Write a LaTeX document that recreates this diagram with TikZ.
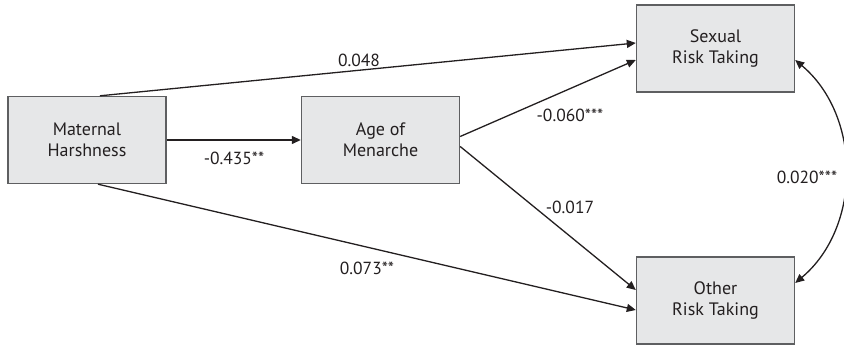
\documentclass[tikz,border=0pt]{standalone}
\usepackage{fontspec}
\setmainfont{PT Sans}
\usetikzlibrary{arrows.meta}
\definecolor{BoxGray}{HTML}{E6E7E8}
\definecolor{EdgeGray}{HTML}{5E5F61}
\definecolor{InkBlack}{HTML}{231F20}
\tikzset{
  varbox/.style={draw=EdgeGray, line width=1.4pt, fill=BoxGray, align=center, minimum width=158pt, minimum height=87pt, inner sep=0pt, font=\fontsize{18}{21}\selectfont, text=InkBlack},
  coef/.style={font=\fontsize{17.5}{21}\selectfont, text=InkBlack, inner sep=1pt},
  link/.style={-{Triangle[length=9pt,width=8pt]}, line width=1.3pt, draw=InkBlack},
  covlink/.style={{Triangle[length=9pt,width=8pt]}-{Triangle[length=9pt,width=8pt]}, line width=1.3pt, draw=InkBlack}
}

\begin{document}
\begin{tikzpicture}[x=1pt, y=1pt]
\useasboundingbox (0,0) rectangle (844,345);
\node[varbox] (harsh) at (87,205) {Maternal\\Harshness};
\node[varbox] (menarche) at (380.5,205) {Age of\\Menarche};
\node[varbox] (sexual) at (715.5,296.5) {Sexual\\Risk Taking};
\node[varbox] (other) at (715.5,44.5) {Other\\Risk Taking};
\draw[link] ([xshift=13pt]harsh.north) -- ([yshift=5.5pt]sexual.west);
\draw[link] (harsh.east) -- (menarche.west);
\draw[link] ([yshift=3.5pt]menarche.east) -- ([yshift=-11.5pt]sexual.west);
\draw[link] ([yshift=-6.5pt]menarche.east) -- ([yshift=10.5pt]other.west);
\draw[link] ([xshift=11pt]harsh.south) -- ([yshift=-9.5pt]other.west);
\draw[covlink] ([yshift=-11.5pt]sexual.east) to[bend left=50] ([yshift=17.5pt]other.east);
\node[coef] (c048) at (359,285) {0.048};
\node[coef] (c435) at (234,187) {-0.435**};
\node[coef] (c060) at (570,230) {-0.060***};
\node[coef] (c017) at (570,138) {-0.017};
\node[coef] (c073) at (367,77) {0.073**};
\node[coef, fill=white] (c020) at (807,168) {0.020***};
\end{tikzpicture}
\end{document}
